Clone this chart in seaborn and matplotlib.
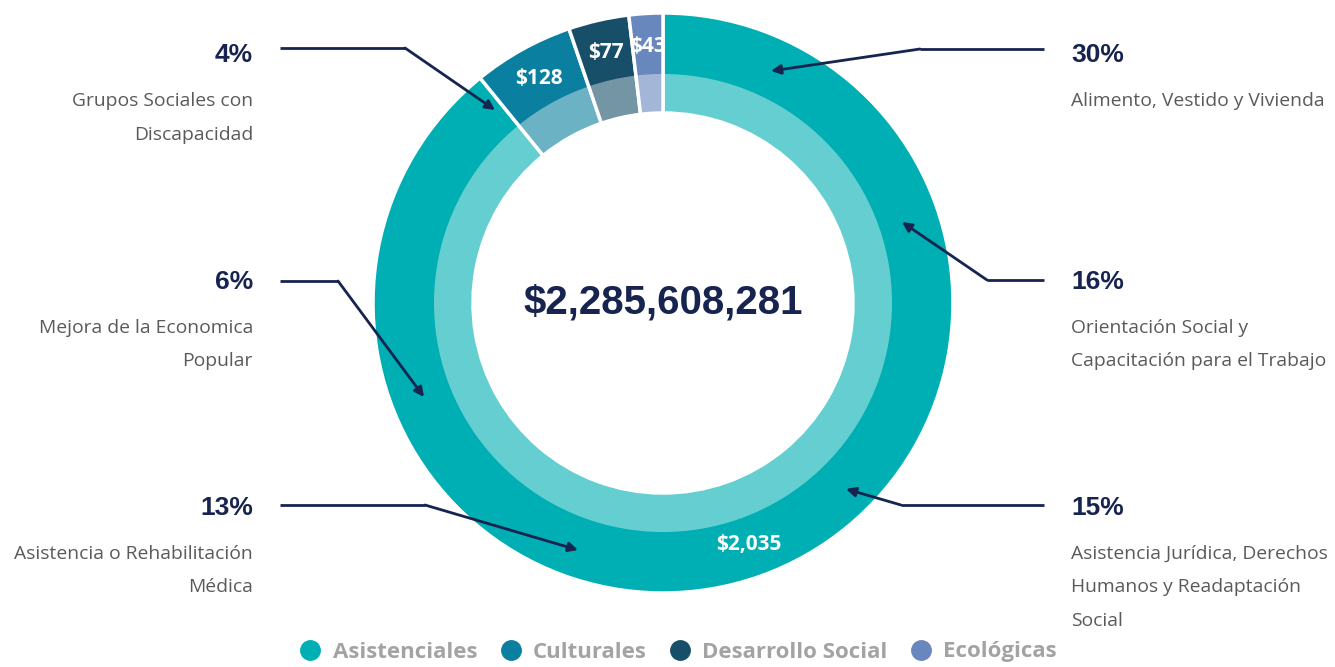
import numpy as np
import seaborn as sns
import matplotlib.pyplot as plt
from matplotlib.lines import Line2D

# data
categorias = ["Asistenciales", "Culturales", "Desarrollo Social", "Ecológicas"]
montos = [2035, 128, 77, 43]  # millones
colores = ["#00AFB4", "#0A7F9F", "#184F68", "#6887BD"]
total_txt = "$2,285,608,281"

pct_izq = ["4%", "6%", "13%"]
desc_izq = ["Grupos Sociales con\nDiscapacidad",
            "Mejora de la Economica\nPopular",
            "Asistencia o Rehabilitación\nMédica"]
pct_der = ["30%", "16%", "15%"]
desc_der = ["Alimento, Vestido y Vivienda",
            "Orientación Social y\nCapacitación para el Trabajo",
            "Asistencia Jurídica, Derechos\nHumanos y Readaptación\nSocial"]

W, H = 1335, 667
NAVY = "#16244F"
GRIS = "#5A5A5A"

sns.set_theme(style="white")
plt.rcParams['font.family'] = ['Open Sans', 'DejaVu Sans']

fig = plt.figure(figsize=(W / 100, H / 100), dpi=100)
ax = fig.add_axes([0, 0, 1, 1])


def px(x, y):
    # pixel coords (origin top-left) -> data coords
    return (x, H - y)


cx, cy = px(663, 303)
total = sum(montos)

wedges, _, autotexts = ax.pie(
    montos, radius=290, center=(cx, cy), startangle=90, counterclock=False,
    colors=colores, autopct=lambda p: f"${p * total / 100:,.0f}",
    pctdistance=0.885,
    wedgeprops=dict(width=100, edgecolor="white", linewidth=2.5),
    textprops=dict(color="white", fontsize=15, fontweight="bold"))

# lighter inner band
ax.pie(montos, radius=229, center=(cx, cy), startangle=90, counterclock=False,
       colors=["white"] * len(montos),
       wedgeprops=dict(width=39, alpha=0.4, linewidth=0))

ax.text(cx, cy, total_txt, ha="center", va="center", fontsize=29,
        fontweight="bold", color=NAVY, family=["Liberation Sans", "DejaVu Sans"])

# annotations
y_pct = [55, 282, 508]
flechas_izq = [((280, 48), (405, 48), (495, 110)),
               ((280, 281), (338, 281), (424, 397)),
               ((280, 505), (425, 505), (578, 550))]
flechas_der = [((1044, 49), (920, 49), (771, 71)),
               ((1044, 280), (987, 280), (902, 222)),
               ((1044, 505), (901, 505), (846, 489))]


def anotar(pcts, descs, flechas, x, ha):
    for pct, desc, yp, (a, b, c) in zip(pcts, descs, y_pct, flechas):
        ax.text(*px(x, yp), pct, ha=ha, va="center", fontsize=19,
                fontweight="bold", color=NAVY,
                family=["Liberation Sans", "DejaVu Sans"])
        for i, linea in enumerate(desc.split("\n")):
            ax.text(*px(x, yp + 46 + i * 33.5), linea, ha=ha, va="center",
                    fontsize=13.9, color=GRIS)
        ax.plot([px(*a)[0], px(*b)[0]], [px(*a)[1], px(*b)[1]],
                color=NAVY, lw=2, solid_capstyle="butt")
        ax.annotate("", xy=px(*c), xytext=px(*b),
                    arrowprops=dict(arrowstyle="-|>", color=NAVY, lw=2,
                                    mutation_scale=14, shrinkA=0, shrinkB=0))


anotar(pct_izq, desc_izq, flechas_izq, 253, "right")
anotar(pct_der, desc_der, flechas_der, 1071, "left")

handles = [Line2D([], [], marker="o", ls="", markersize=14, color=c)
           for c in colores]
leg = ax.legend(handles, categorias, loc="center", ncol=4,
                bbox_to_anchor=(678 / W, 1 - 652 / H), frameon=False,
                handlelength=1.0, handletextpad=0.5, columnspacing=1.0,
                prop=dict(size=16, weight="bold"))
for t in leg.get_texts():
    t.set_color("#A3A3A3")

ax.set_xlim(0, W)
ax.set_ylim(0, H)
ax.set_aspect("equal")
ax.axis("off")

fig.savefig("out.png", dpi=100)
